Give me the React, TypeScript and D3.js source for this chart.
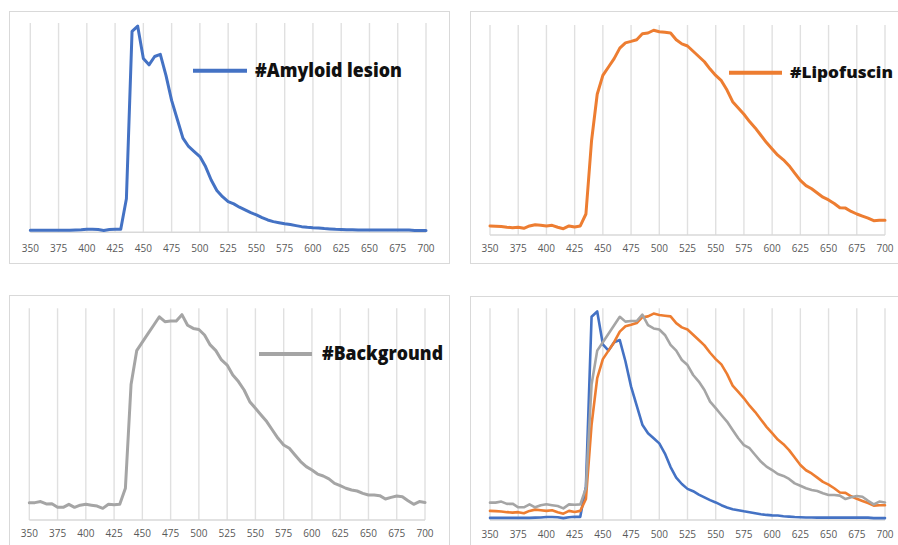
import React from "react";
import * as d3 from "d3";

// wavelength (nm), normalised emission intensity
const wavelengths = [
  350, 355, 360, 365, 370, 375, 380, 385, 390, 395, 400, 405, 410, 415, 420, 425, 430, 435, 440, 445,
  450, 455, 460, 465, 470, 475, 480, 485, 490, 495, 500, 505, 510, 515, 520, 525, 530, 535, 540, 545,
  550, 555, 560, 565, 570, 575, 580, 585, 590, 595, 600, 605, 610, 615, 620, 625, 630, 635, 640, 645,
  650, 655, 660, 665, 670, 675, 680, 685, 690, 695, 700,
];

const amyloid = [
  0.01, 0.01, 0.01, 0.01, 0.01, 0.01, 0.01, 0.01, 0.011, 0.012, 0.014, 0.014, 0.013, 0.009, 0.013, 0.015, 0.015, 0.16, 0.96, 0.985,
  0.83, 0.8, 0.84, 0.85, 0.75, 0.63, 0.54, 0.45, 0.41, 0.386, 0.362, 0.314, 0.25, 0.2, 0.17, 0.147, 0.136, 0.12, 0.107, 0.094,
  0.083, 0.07, 0.059, 0.051, 0.046, 0.041, 0.037, 0.032, 0.027, 0.024, 0.022, 0.021, 0.018, 0.016, 0.014, 0.013, 0.012, 0.012, 0.011, 0.011,
  0.011, 0.011, 0.011, 0.011, 0.011, 0.011, 0.011, 0.011, 0.009, 0.009, 0.009,
];

const lipofuscin = [
  0.043, 0.042, 0.04, 0.037, 0.035, 0.037, 0.032, 0.043, 0.049, 0.046, 0.043, 0.046, 0.037, 0.03, 0.043, 0.038, 0.043, 0.1, 0.45, 0.67,
  0.76, 0.8, 0.84, 0.89, 0.915, 0.922, 0.93, 0.958, 0.962, 0.975, 0.968, 0.965, 0.962, 0.93, 0.91, 0.9, 0.875, 0.85, 0.825, 0.79,
  0.76, 0.735, 0.69, 0.635, 0.605, 0.575, 0.54, 0.51, 0.475, 0.44, 0.41, 0.38, 0.358, 0.33, 0.295, 0.26, 0.235, 0.22, 0.2, 0.18,
  0.167, 0.15, 0.13, 0.128, 0.112, 0.1, 0.09, 0.08, 0.068, 0.07, 0.07,
];

const background = [
  0.082, 0.082, 0.087, 0.076, 0.077, 0.06, 0.06, 0.074, 0.06, 0.07, 0.074, 0.07, 0.066, 0.055, 0.074, 0.072, 0.074, 0.15, 0.64, 0.8,
  0.84, 0.88, 0.92, 0.96, 0.937, 0.94, 0.94, 0.97, 0.92, 0.905, 0.9, 0.874, 0.827, 0.8, 0.756, 0.732, 0.685, 0.654, 0.614, 0.559,
  0.528, 0.496, 0.465, 0.425, 0.386, 0.354, 0.339, 0.307, 0.276, 0.252, 0.236, 0.217, 0.208, 0.194, 0.173, 0.162, 0.15, 0.142, 0.137, 0.126,
  0.118, 0.118, 0.115, 0.099, 0.107, 0.113, 0.11, 0.091, 0.074, 0.087, 0.083,
];

const tickLabels = [350, 375, 400, 425, 450, 475, 500, 525, 550, 575, 600, 625, 650, 675, 700];

const BLUE = "#4472C4";
const ORANGE = "#ED7D31";
const GRAY = "#A5A5A5";

type Series = { values: number[]; color: string };
type Legend = {
  x1: number; x2: number; y: number; textX: number; textY: number;
  width: number; size: number; label: string; color: string;
};

function Panel(props: {
  box: [number, number, number, number];
  x0: number; x1: number; top: number; bottom: number; labelY: number;
  series: Series[]; sw: number; legend?: Legend;
}) {
  const { box, x0, x1, top, bottom, labelY, series, sw, legend } = props;
  const x = d3.scaleLinear().domain([350, 700]).range([x0, x1]);
  const y = d3.scaleLinear().domain([0, 1]).range([bottom, top]);
  const line = d3
    .line<number>()
    .x((d, i) => x(wavelengths[i]))
    .y((d) => y(d));

  return (
    <g>
      <rect x={box[0] + 0.5} y={box[1] + 0.5} width={box[2]} height={box[3]} fill="#fff" stroke="#d9d9d9" strokeWidth={1} />
      {tickLabels.map((t) => (
        <line key={"g" + t} x1={x(t)} x2={x(t)} y1={top} y2={bottom} stroke="#e0e0e0" strokeWidth={1.4} />
      ))}
      <line x1={x0} x2={x1} y1={bottom} y2={bottom} stroke="#d9d9d9" strokeWidth={1.4} />
      {tickLabels.map((t) => (
        <text key={"t" + t} x={x(t)} y={labelY} textAnchor="middle" dominantBaseline="central"
          fontFamily="'Open Sans', sans-serif" fontSize={10} fill="#595959">
          {t}
        </text>
      ))}
      {series.map((s, i) => (
        <path key={i} d={line(s.values) || ""} fill="none" stroke={s.color} strokeWidth={sw}
          strokeLinejoin="round" strokeLinecap="round" />
      ))}
      {legend && (
        <g>
          <line x1={legend.x1} x2={legend.x2} y1={legend.y} y2={legend.y} stroke={legend.color} strokeWidth={4} />
          <text x={legend.textX} y={legend.textY} fontFamily="'Open Sans', sans-serif" fontWeight={800}
            fontSize={legend.size} fill="#111" textLength={legend.width} lengthAdjust="spacingAndGlyphs">
            {legend.label}
          </text>
        </g>
      )}
    </g>
  );
}

export default function App() {
  return (
    <svg width={898} height={545} style={{ position: "absolute", left: 0, top: 0, background: "#fff" }}>
      <Panel box={[9, 11, 440, 252]} x0={30.3} x1={426} top={23} bottom={232.3} labelY={248.3}
        series={[{ values: amyloid, color: BLUE }]} sw={3}
        legend={{ x1: 193, x2: 247, y: 70.7, textX: 255, textY: 76.5, width: 147, size: 18.5, label: "#Amyloid lesion", color: BLUE }} />
      <Panel box={[470, 11, 440, 252]} x0={490} x1={885} top={25} bottom={235} labelY={248.3}
        series={[{ values: lipofuscin, color: ORANGE }]} sw={3}
        legend={{ x1: 729, x2: 782, y: 72.7, textX: 790, textY: 78, width: 103, size: 16.5, label: "#Lipofuscin", color: ORANGE }} />
      <Panel box={[9, 295, 440, 260]} x0={29.3} x1={425} top={308.3} bottom={520} labelY={533.3}
        series={[{ values: background, color: GRAY }]} sw={3}
        legend={{ x1: 259, x2: 312, y: 354, textX: 322, textY: 360, width: 121, size: 18.5, label: "#Background", color: GRAY }} />
      <Panel box={[470, 296, 440, 260]} x0={490} x1={885} top={308.3} bottom={520} labelY={534}
        series={[
          { values: amyloid, color: BLUE },
          { values: lipofuscin, color: ORANGE },
          { values: background, color: GRAY },
        ]} sw={2.6} />
    </svg>
  );
}
